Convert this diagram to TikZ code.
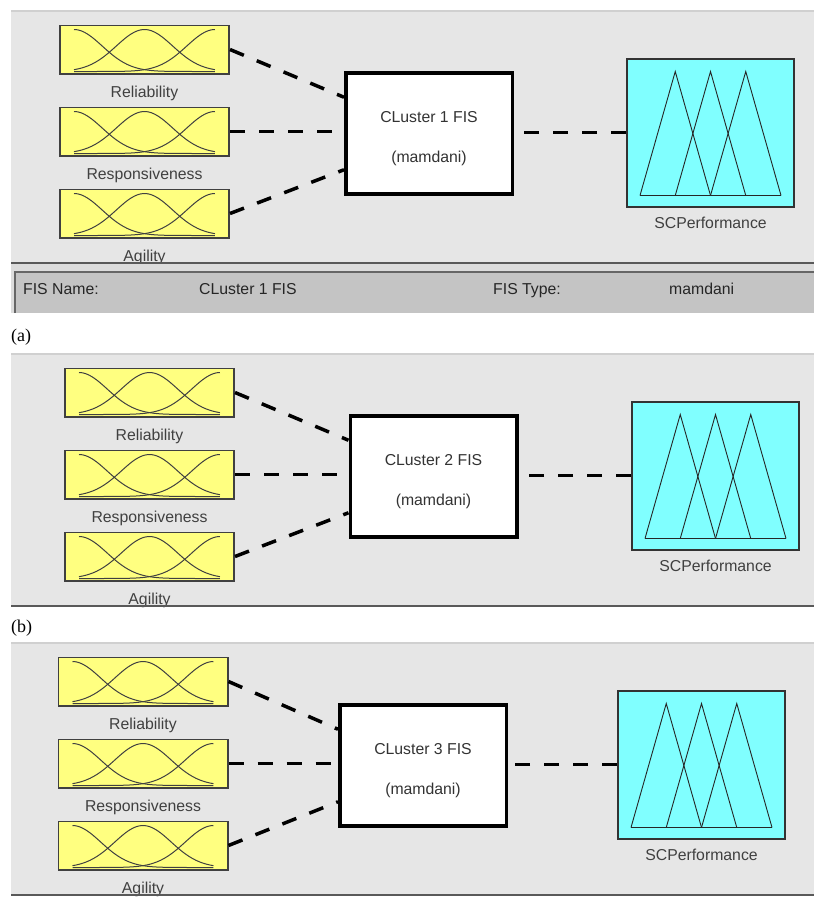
\documentclass[tikz,border=0pt]{standalone}
\usepackage{fontspec}
\setmainfont{Liberation Serif}
\newfontfamily\guifont{Liberation Sans}
\usetikzlibrary{positioning}

\definecolor{guigray}{RGB}{230,230,230}
\definecolor{guiedge}{RGB}{208,208,208}
\definecolor{barback}{RGB}{196,196,196}
\definecolor{barlight}{RGB}{220,220,220}
\definecolor{mfyellow}{RGB}{255,255,128}
\definecolor{mfcyan}{RGB}{128,255,255}
\newcommand\guisize{\fontsize{15.8pt}{18pt}\selectfont}

\tikzset{
  panel/.style={fill=guigray},
  mfbox/.style={draw=black!75, line width=1.6pt, fill=mfyellow,
    minimum width=169.4pt, minimum height=48.4pt, inner sep=0pt},
  fisbox/.style={draw=black, line width=3.5pt, fill=white,
    minimum width=166.5pt, minimum height=121pt, align=center,
    font=\guifont\guisize, text=black!80},
  outbox/.style={draw=black!80, line width=2pt, fill=mfcyan,
    minimum width=167pt, minimum height=148pt, inner sep=0pt},
  varname/.style={font=\guifont\guisize, text=black!75, inner sep=0pt,
    text height=11pt, text depth=3pt},
  barname/.style={font=\guifont\guisize, text=black!85, anchor=west, inner sep=0pt,
    text height=11pt, text depth=3pt},
  caption/.style={font=\fontsize{18pt}{20pt}\selectfont, anchor=west, inner sep=0pt},
  link/.style={line width=3.5pt, dash pattern=on 15pt off 14pt},
  mfcurve/.style={line width=1pt, black!75},
  mftri/.style={line width=0.9pt, black!85},
}

\begin{document}
\begin{tikzpicture}[x=1pt, y=-1pt]
  \useasboundingbox (0,0) rectangle (824,903);
  \fill[white] (0,0) rectangle (824,903);
  \foreach \pn/\ytop/\xa/\xb/\xc in {1/10/144.5/429/710.5, 2/353/149.5/433.5/715.5, 3/642/143/423/701.5}{
    \begin{scope}[shift={(0,\ytop)}]
      % window background
      \fill[panel] (11,0) rectangle (814,253);
      \draw[guiedge, line width=2pt] (11,1) -- (814,1);
      % input variables
      \node[mfbox] (rel\pn) at (\xa,39.5) {};
      \node[mfbox, below=32pt of rel\pn] (res\pn) {};
      \node[mfbox, below=32pt of res\pn] (agi\pn) {};
      \node[varname, below=12pt of rel\pn] (rell\pn) {Reliability};
      \node[varname, below=12pt of res\pn] (resl\pn) {Responsiveness};
      \node[varname, below=12pt of agi\pn] (agil\pn) {Agility};
      \foreach \mf in {rel,res,agi}
        \foreach \pk in {0,0.5,1}
          \draw[mfcurve, shift={(\mf\pn.south west)}, xshift=15pt, yshift=3pt, x=141pt, y=42pt]
            plot[domain=0:1, samples=41, smooth] (\x,{exp(-(\x-\pk)*(\x-\pk)/0.08)});
      % rule block and output
      \node[fisbox] (fis\pn) at (\xb,123.5) {\rule{0pt}{21pt}CLuster \pn{} FIS\\[22pt](mamdani)};
      \node[outbox] (out\pn) at (\xc,122.5) {};
      \node[varname, below=10pt of out\pn] (outl\pn) {SCPerformance};
      \draw[mftri] ([shift={(14pt,12pt)}]out\pn.south west) coordinate (base\pn) -- ++(141pt,0pt);
      \foreach \i in {0,1,2}
        \draw[mftri] ([xshift=\i*35.25pt]base\pn) -- ++(35.25pt,124pt) -- ++(35.25pt,-124pt);
      % connectors
      \draw[link] (rel\pn.east) -- ([yshift=-26pt]fis\pn.north west);
      \draw[link] (res\pn.east) -- (res\pn.east -| fis\pn.west);
      \draw[link] (agi\pn.east) -- ([yshift=26pt]fis\pn.south west);
      \draw[link] (out\pn.west) -- (out\pn.west -| fis\pn.east);
      \draw[black!65, line width=2pt] (11,253) -- (814,253);
    \end{scope}
  }
  % status bar of (a)
  \fill[barlight] (11,264) rectangle (814,313);
  \fill[barback] (15,272) rectangle (814,313);
  \draw[black!60, line width=1.5pt] (15,313) -- (15,272) -- (814,272);
  \node[barname] (fisname) at (23,290) {FIS Name:};
  \node[barname] (fisnameval) at (199,290) {CLuster 1 FIS};
  \node[barname] (fistype) at (493,290) {FIS Type:};
  \node[barname] (fistypeval) at (669,290) {mamdani};
  % captions
  \node[caption] (capa) at (11,337) {(a)};
  \node[caption] (capb) at (11,628) {(b)};
\end{tikzpicture}
\end{document}
